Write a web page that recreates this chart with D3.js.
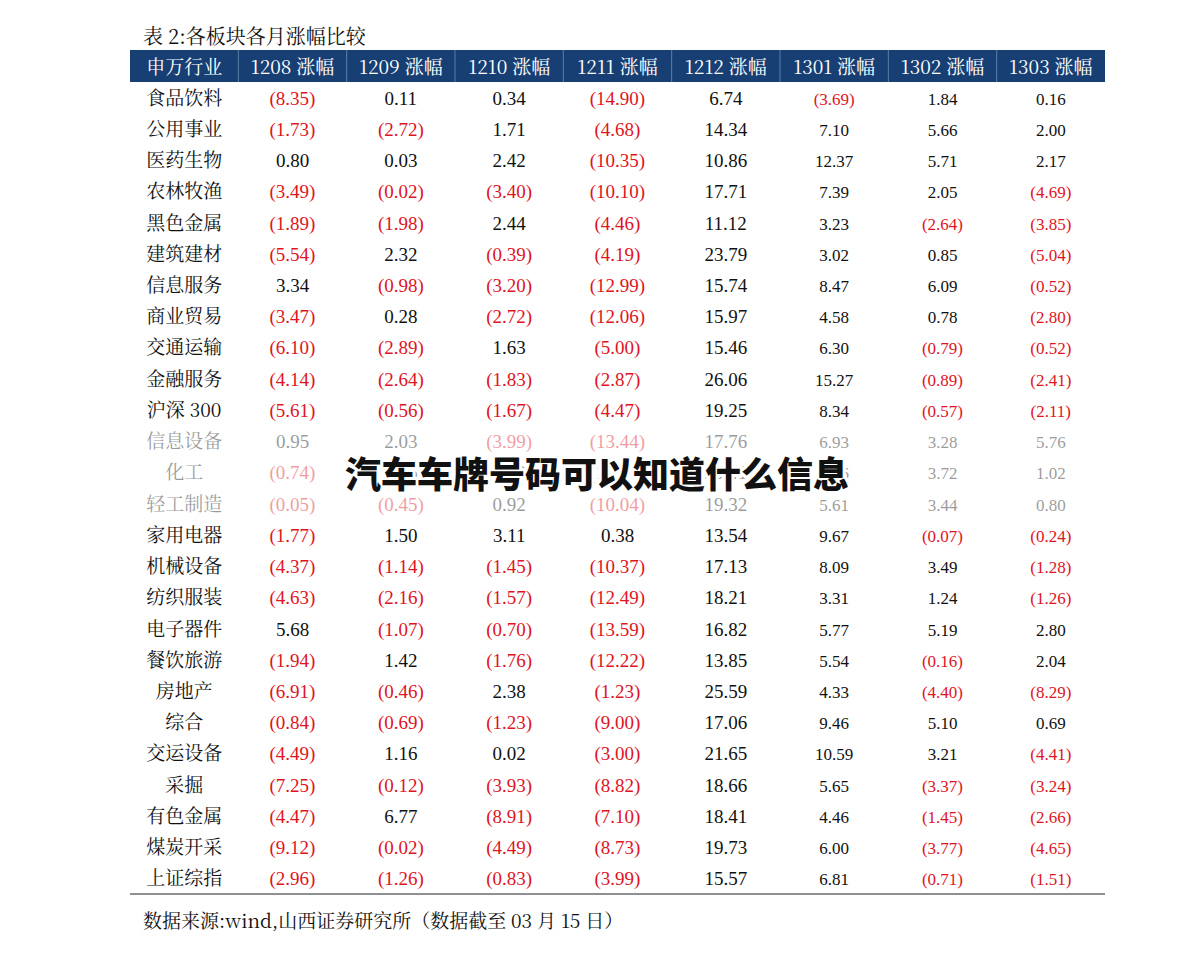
<!DOCTYPE html>
<html><head><meta charset="utf-8">
<script src="https://cdn.jsdelivr.net/npm/d3@7"></script>
<style>body{margin:0;background:#fff}</style>
</head><body>
<svg id="chart" width="1191" height="955"></svg>
<script>
const title = "表 2:各板块各月涨幅比较";
const columns = ["申万行业","1208 涨幅","1209 涨幅","1210 涨幅","1211 涨幅","1212 涨幅","1301 涨幅","1302 涨幅","1303 涨幅"];
const industries = ["食品饮料","公用事业","医药生物","农林牧渔","黑色金属","建筑建材","信息服务","商业贸易","交通运输","金融服务","沪深 300","信息设备","化工","轻工制造","家用电器","机械设备","纺织服装","电子器件","餐饮旅游","房地产","综合","交运设备","采掘","有色金属","煤炭开采","上证综指"];
const values = [
 [-8.35,0.11,0.34,-14.90,6.74,-3.69,1.84,0.16],
 [-1.73,-2.72,1.71,-4.68,14.34,7.10,5.66,2.00],
 [0.80,0.03,2.42,-10.35,10.86,12.37,5.71,2.17],
 [-3.49,-0.02,-3.40,-10.10,17.71,7.39,2.05,-4.69],
 [-1.89,-1.98,2.44,-4.46,11.12,3.23,-2.64,-3.85],
 [-5.54,2.32,-0.39,-4.19,23.79,3.02,0.85,-5.04],
 [3.34,-0.98,-3.20,-12.99,15.74,8.47,6.09,-0.52],
 [-3.47,0.28,-2.72,-12.06,15.97,4.58,0.78,-2.80],
 [-6.10,-2.89,1.63,-5.00,15.46,6.30,-0.79,-0.52],
 [-4.14,-2.64,-1.83,-2.87,26.06,15.27,-0.89,-2.41],
 [-5.61,-0.56,-1.67,-4.47,19.25,8.34,-0.57,-2.11],
 [0.95,2.03,-3.99,-13.44,17.76,6.93,3.28,5.76],
 [-0.74,1.26,0.98,-10.41,20.41,6.96,3.72,1.02],
 [-0.05,-0.45,0.92,-10.04,19.32,5.61,3.44,0.80],
 [-1.77,1.50,3.11,0.38,13.54,9.67,-0.07,-0.24],
 [-4.37,-1.14,-1.45,-10.37,17.13,8.09,3.49,-1.28],
 [-4.63,-2.16,-1.57,-12.49,18.21,3.31,1.24,-1.26],
 [5.68,-1.07,-0.70,-13.59,16.82,5.77,5.19,2.80],
 [-1.94,1.42,-1.76,-12.22,13.85,5.54,-0.16,2.04],
 [-6.91,-0.46,2.38,-1.23,25.59,4.33,-4.40,-8.29],
 [-0.84,-0.69,-1.23,-9.00,17.06,9.46,5.10,0.69],
 [-4.49,1.16,0.02,-3.00,21.65,10.59,3.21,-4.41],
 [-7.25,-0.12,-3.93,-8.82,18.66,5.65,-3.37,-3.24],
 [-4.47,6.77,-8.91,-7.10,18.41,4.46,-1.45,-2.66],
 [-9.12,-0.02,-4.49,-8.73,19.73,6.00,-3.77,-4.65],
 [-2.96,-1.26,-0.83,-3.99,15.57,6.81,-0.71,-1.51]
];
const fadedRows = ["信息设备","化工","轻工制造"];
const source = "数据来源:wind,山西证券研究所（数据截至 03 月 15 日）";
const overlay = "汽车车牌号码可以知道什么信息";

const svg = d3.select("#chart");
const left = 130, right = 1105;
const x = d3.scaleBand().domain(d3.range(columns.length)).range([left, right]);
const y = d3.scaleBand().domain(industries).range([82, 894]);
const fmt = v => v < 0 ? "(" + d3.format(".2f")(-v) + ")" : d3.format(".2f")(v);
const cjk = "'Noto Serif CJK SC','Noto Sans CJK SC',serif";
const num = "'Liberation Serif','DejaVu Serif',serif";

svg.append("text").attr("x", 143).attr("y", 44).attr("font-family", cjk)
  .attr("font-size", 20).attr("fill", "#111").text(title);

// header
svg.append("rect").attr("x", left).attr("y", 50).attr("width", right - left).attr("height", 32).attr("fill", "#173f73");
svg.selectAll(".sep").data(d3.range(1, columns.length)).join("line")
  .attr("x1", d => x(d)).attr("x2", d => x(d)).attr("y1", 50).attr("y2", 82)
  .attr("stroke", "#5d7fa8").attr("stroke-width", 1);
svg.selectAll(".hd").data(columns).join("text")
  .attr("x", (d, i) => x(i) + x.bandwidth() / 2).attr("y", 74)
  .attr("text-anchor", "middle").attr("fill", "#fff")
  .attr("font-family", cjk).attr("font-size", 19).text(d => d);

// rows
const rows = svg.selectAll(".row").data(industries).join("g")
  .attr("transform", d => `translate(0,${y(d) + y.bandwidth() / 2 + 7})`)
  .attr("opacity", d => fadedRows.includes(d) ? 0.42 : 1);
rows.append("text").attr("x", x(0) + x.bandwidth() / 2).attr("text-anchor", "middle")
  .attr("font-family", cjk).attr("font-size", 19).attr("fill", "#111").text(d => d);
rows.each(function(d, r) {
  d3.select(this).selectAll(".v").data(values[r]).join("text")
    .attr("x", (v, i) => x(i + 1) + x.bandwidth() / 2).attr("text-anchor", "middle")
    .attr("font-family", num).attr("font-size", (v, i) => i >= 5 ? 17 : 19)
    .attr("fill", v => v < 0 ? "#e0141e" : "#111").text(fmt);
});

svg.append("line").attr("x1", left).attr("x2", right).attr("y1", 894).attr("y2", 894)
  .attr("stroke", "#222").attr("stroke-width", 1.2);
svg.append("text").attr("x", 143).attr("y", 928).attr("font-family", cjk)
  .attr("font-size", 19).attr("fill", "#111").text(source);

svg.append("text").attr("x", 597).attr("y", 488).attr("text-anchor", "middle")
  .attr("font-family", "'Noto Sans CJK SC',sans-serif").attr("font-weight", 900)
  .attr("font-size", 36).attr("fill", "#111").attr("stroke", "#fff").attr("stroke-width", 6)
  .attr("paint-order", "stroke").text(overlay);
</script>
</body></html>
